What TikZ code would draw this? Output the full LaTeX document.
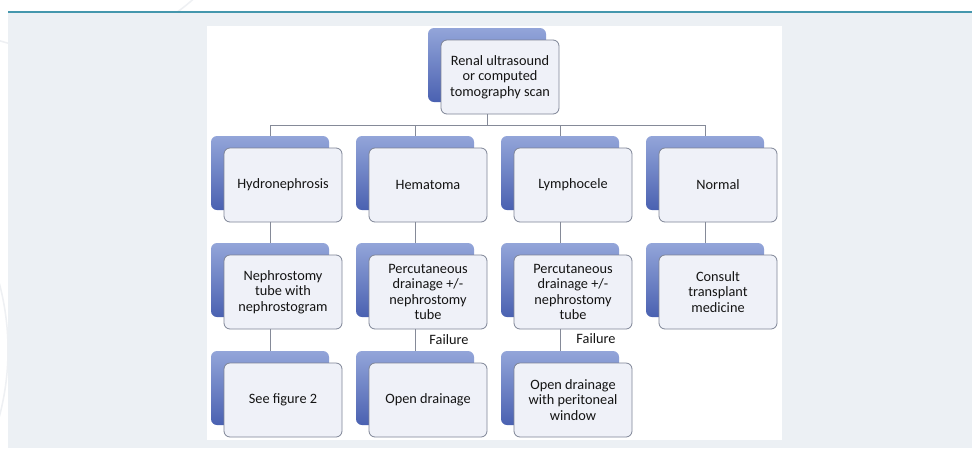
\documentclass[tikz,border=0pt]{standalone}
\usepackage{fontspec}
\setmainfont{Carlito}
\usetikzlibrary{calc}
\definecolor{bkTop}{HTML}{93A5D9}
\definecolor{bkBot}{HTML}{4A61B1}
\definecolor{frFill}{HTML}{EFF1F8}
\definecolor{frEdge}{HTML}{7E8496}
\definecolor{lnk}{HTML}{858A98}
\definecolor{txt}{HTML}{141414}
\definecolor{panel}{HTML}{ECF0F4}
\definecolor{tealline}{HTML}{4597AD}
\definecolor{arcc}{HTML}{EEF0F3}
\tikzset{
  backbox/.style={anchor=north west, minimum width=118pt, minimum height=74pt,
    inner sep=0pt, outer sep=0pt, rounded corners=6pt,
    top color=bkTop, bottom color=bkBot, draw=none},
  frontbox/.style={anchor=north west, minimum width=118pt, minimum height=74pt,
    inner sep=2pt, outer sep=0pt, rounded corners=6pt, draw=frEdge,
    line width=0.8pt, fill=frFill, align=center,
    font=\fontsize{14.3}{15.5}\selectfont, text=txt},
  link/.style={draw=lnk, line width=0.9pt},
  failtxt/.style={font=\fontsize{14.3}{15.5}\selectfont, text=txt, inner sep=0pt}
}
\begin{document}
\begin{tikzpicture}[x=1pt,y=-1pt]
\useasboundingbox (0,0) rectangle (972,448);
\fill[white] (0,0) rectangle (972,448);
\draw[arcc, line width=1.5pt] (60,-150) circle[radius=200pt];
\draw[arcc, line width=1.5pt] (-250,350) circle[radius=258pt];
\fill[panel] (8,12) rectangle (972,448);
\draw[tealline, line width=1.8pt] (8,11.7) -- (972,11.7);
\fill[white] (207,26) rectangle (782,440);

% top
\node[backbox] (topb) at (428,28) {};
\node[frontbox] (top) at (441,40) {Renal ultrasound\\or computed\\tomography scan};

% row 1
\node[backbox] (a1b) at (211,136) {};
\node[frontbox] (a1) at (224,148) {Hydronephrosis};
\node[backbox] (b1b) at (356,136) {};
\node[frontbox] (b1) at (369,148) {Hematoma};
\node[backbox] (c1b) at (501,136) {};
\node[frontbox] (c1) at (514,148) {Lymphocele};
\node[backbox] (d1b) at (646,136) {};
\node[frontbox] (d1) at (659,148) {Normal};

% row 2
\node[backbox] (a2b) at (211,243) {};
\node[frontbox] (a2) at (224,255) {Nephrostomy\\tube with\\nephrostogram};
\node[backbox] (b2b) at (356,243) {};
\node[frontbox] (b2) at (369,255) {Percutaneous\\drainage +/-\\nephrostomy\\tube};
\node[backbox] (c2b) at (501,243) {};
\node[frontbox] (c2) at (514,255) {Percutaneous\\drainage +/-\\nephrostomy\\tube};
\node[backbox] (d2b) at (646,243) {};
\node[frontbox] (d2) at (659,255) {Consult\\transplant\\medicine};

% row 3
\node[backbox] (a3b) at (211,351) {};
\node[frontbox] (a3) at (224,363) {See figure 2};
\node[backbox] (b3b) at (356,351) {};
\node[frontbox] (b3) at (369,363) {Open drainage};
\node[backbox] (c3b) at (501,351) {};
\node[frontbox] (c3) at (514,363) {Open drainage\\with peritoneal\\window};

% connectors
\coordinate (bus) at ($(top.south -| topb.center)+(0,11)$);
\draw[link] (top.south -| topb.center) -- (bus);
\draw[link] (bus) -| (a1b.north);
\draw[link] (bus) -| (b1b.north);
\draw[link] (bus) -| (c1b.north);
\draw[link] (bus) -| (d1b.north);
\draw[link] (a1.south -| a1b.center) -- (a2b.north);
\draw[link] (b1.south -| b1b.center) -- (b2b.north);
\draw[link] (c1.south -| c1b.center) -- (c2b.north);
\draw[link] (d1.south -| d1b.center) -- (d2b.north);
\draw[link] (a2.south -| a2b.center) -- (a3b.north);
\draw[link] (b2.south -| b2b.center) -- (b3b.north);
\draw[link] (c2.south -| c2b.center) -- (c3b.north);

\node[failtxt] (fb) at (449,340) {Failure};
\node[failtxt] (fc) at (596,339) {Failure};
\end{tikzpicture}
\end{document}
